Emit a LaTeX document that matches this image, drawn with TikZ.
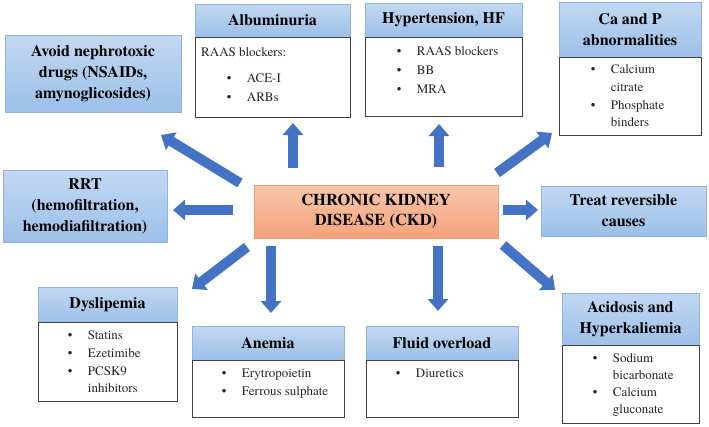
\documentclass[tikz,border=0pt]{standalone}
\usepackage{fontspec}
\setmainfont{texgyretermes}[Extension=.otf, UprightFont=*-regular, BoldFont=*-bold, ItalicFont=*-italic, BoldItalicFont=*-bolditalic]
\usetikzlibrary{arrows.meta}
\definecolor{arrowblue}{HTML}{4472C4}
\definecolor{hdrtop}{HTML}{C2D8F1}
\definecolor{hdrbot}{HTML}{9CC0E8}
\definecolor{hdrline}{HTML}{8DB4E2}
\definecolor{ckdtop}{HTML}{F8C7AC}
\definecolor{ckdbot}{HTML}{F4A27A}
\definecolor{ckdline}{HTML}{F3A06E}
\definecolor{bodyline}{HTML}{404040}
\newcommand{\bul}[1]{\makebox[20pt][l]{\textbullet}#1}
\newcommand{\cnt}[1]{\hspace*{20pt}#1}
\begin{document}
\begin{tikzpicture}[x=1pt,y=-1pt,
  hdr/.style={draw=hdrline, line width=0.8pt, top color=hdrtop, bottom color=hdrbot,
    inner sep=0pt, align=center, font=\fontsize{16}{21}\selectfont\bfseries},
  ckdbox/.style={draw=ckdline, line width=0.9pt, top color=ckdtop, bottom color=ckdbot,
    inner sep=0pt, align=center, font=\fontsize{16.5}{20}\selectfont\bfseries},
  bodybox/.style={draw=bodyline, fill=white, line width=0.9pt, inner sep=0pt, anchor=north},
  listtext/.style={anchor=north west, inner sep=0pt, align=left,
    font=\fontsize{13}{17.7}\selectfont, text=black!85},
  blk/.style={draw=arrowblue, line width=10pt, -{Triangle[width=20pt,length=12pt]}}
]
\useasboundingbox (0,0) rectangle (709,426);

% central node
\node[ckdbox, minimum width=244pt, minimum height=53pt] (ckd) at (376,211.5) {CHRONIC KIDNEY\\DISEASE (CKD)};

% single boxes
\node[hdr, minimum width=176pt, minimum height=77pt] (avoid) at (93,73.5) {Avoid nephrotoxic\\drugs (NSAIDs,\\amynoglicosides)};
\node[hdr, minimum width=164pt, minimum height=72pt] (rrt) at (85,206) {RRT\\(hemofiltration,\\hemodiafiltration)};
\node[hdr, minimum width=165pt, minimum height=50pt] (treat) at (623.5,211) {Treat reversible\\causes};

% Albuminuria
\node[hdr, minimum width=155pt, minimum height=33pt] (alb) at (272.5,20.5) {Albuminuria};
\node[bodybox, minimum width=155pt, minimum height=80pt] (albb) at (alb.south) {};
\node[listtext, font=\fontsize{13}{19}\selectfont] (albt) at (201,47.8) {RAAS blockers:\\[7pt]\hspace*{25.7pt}\bul{ACE-I}\\\hspace*{25.7pt}\bul{ARBs}};

% Hypertension
\node[hdr, minimum width=157pt, minimum height=34pt] (htn) at (443.5,20) {Hypertension, HF};
\node[bodybox, minimum width=157pt, minimum height=79pt] (htnb) at (htn.south) {};
\node[listtext, font=\fontsize{13}{19}\selectfont] (htnt) at (396.7,46.8) {\bul{RAAS blockers}\\\bul{BB}\\\bul{MRA}};

% Ca and P
\node[hdr, minimum width=142pt, minimum height=55pt] (ca) at (630,29.5) {Ca and P\\abnormalities};
\node[bodybox, minimum width=142pt, minimum height=78pt] (cab) at (ca.south) {};
\node[listtext] (cat) at (590.7,64.8) {\bul{Calcium}\\\cnt{citrate}\\\bul{Phosphate}\\\cnt{binders}};

% Dyslipemia
\node[hdr, minimum width=139pt, minimum height=35pt] (dys) at (107.5,304.5) {Dyslipemia};
\node[bodybox, minimum width=139pt, minimum height=79pt] (dysb) at (dys.south) {};
\node[listtext] (dyst) at (67.7,330.8) {\bul{Statins}\\\bul{Ezetimibe}\\\bul{PCSK9}\\\cnt{inhibitors}};

% Anemia
\node[hdr, minimum width=152pt, minimum height=34pt] (ane) at (268,343) {Anemia};
\node[bodybox, minimum width=152pt, minimum height=57pt] (aneb) at (ane.south) {};
\node[listtext] (anet) at (221.7,368.8) {\bul{Erytropoietin}\\\bul{Ferrous sulphate}};

% Fluid overload
\node[hdr, minimum width=152pt, minimum height=34pt] (flu) at (442,343) {Fluid overload};
\node[bodybox, minimum width=152pt, minimum height=57pt] (flub) at (flu.south) {};
\node[listtext] (flut) at (395.7,368.8) {\bul{Diuretics}};

% Acidosis
\node[hdr, minimum width=137pt, minimum height=52pt] (acid) at (630.5,319) {Acidosis and\\Hyperkaliemia};
\node[bodybox, minimum width=137pt, minimum height=78pt] (acidb) at (acid.south) {};
\node[listtext, font=\fontsize{13}{16.9}\selectfont] (acidt) at (592.7,353.8) {\bul{Sodium}\\\cnt{bicarbonate}\\\bul{Calcium}\\\cnt{gluconate}};

% arrow end points
\coordinate (aAlbS) at (293,168);   \coordinate (aAlbE) at (293,123);
\coordinate (aHtnS) at (439,167);   \coordinate (aHtnE) at (439,124);
\coordinate (aAvS) at (240,183);    \coordinate (aAvE) at (161,135);
\coordinate (aCaS) at (497,173);    \coordinate (aCaE) at (552,133);
\coordinate (aRrtS) at (233,210);   \coordinate (aRrtE) at (173,210);
\coordinate (aTrS) at (503,210);    \coordinate (aTrE) at (538,210);
\coordinate (aDysS) at (247,247);   \coordinate (aDysE) at (192,289);
\coordinate (aAneS) at (271,246);   \coordinate (aAneE) at (271,313);
\coordinate (aFluS) at (438,246);   \coordinate (aFluE) at (438,311);
\coordinate (aAcS) at (503,245);    \coordinate (aAcE) at (555,290);

\draw[blk] (aAlbS) -- (aAlbE);
\draw[blk] (aHtnS) -- (aHtnE);
\draw[blk] (aAvS) -- (aAvE);
\draw[blk] (aCaS) -- (aCaE);
\draw[blk] (aRrtS) -- (aRrtE);
\draw[blk] (aTrS) -- (aTrE);
\draw[blk] (aDysS) -- (aDysE);
\draw[blk] (aAneS) -- (aAneE);
\draw[blk] (aFluS) -- (aFluE);
\draw[blk] (aAcS) -- (aAcE);
\end{tikzpicture}
\end{document}
